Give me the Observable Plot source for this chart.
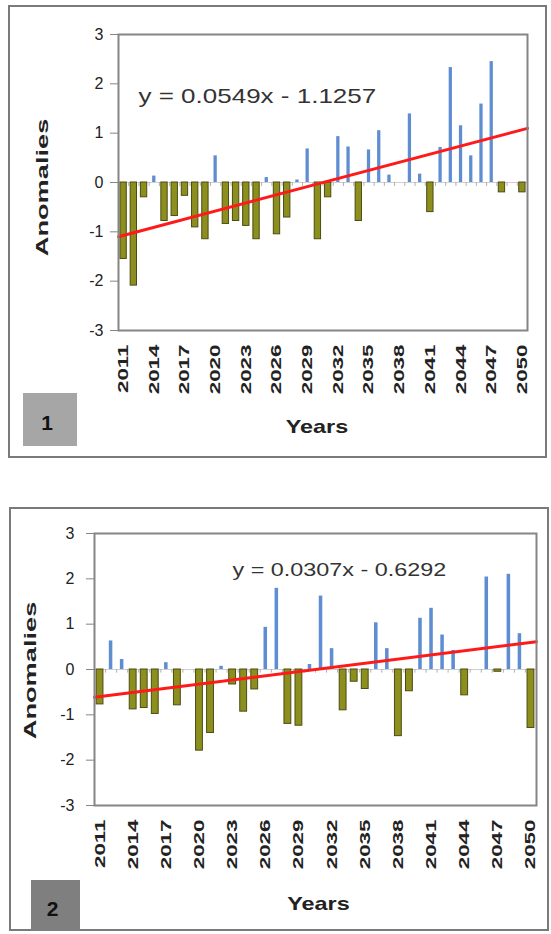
<!DOCTYPE html>
<html>
<head>
<meta charset="utf-8">
<script src="https://cdn.jsdelivr.net/npm/d3@7"></script>
<script src="https://cdn.jsdelivr.net/npm/@observablehq/plot@0.6"></script>
<style>
  body { margin: 0; background: #fff; }
  #wrap { position: relative; width: 551px; height: 934px; background: #fff; overflow: hidden; font-family: "Liberation Sans", Arial, sans-serif; }
  .box { position: absolute; box-sizing: border-box; border: 2px solid #7a7a7a; }
  .tag { position: absolute; box-sizing: border-box; display: flex; align-items: center; justify-content: center; font-weight: bold; font-size: 21px; color: #111; padding-top: 6px; padding-right: 6px; }
  .plot { position: absolute; left: 0; }
</style>
</head>
<body>
<div id="wrap">
  <div class="box" style="left:8px;top:5px;width:539px;height:453px"></div>
  <div class="box" style="left:9px;top:507px;width:540px;height:424px"></div>
  <div class="plot" id="p1" style="top:0"></div>
  <div class="plot" id="p2" style="top:500px"></div>
  <div class="tag" style="left:23px;top:393px;width:54px;height:53px;background:#a6a6a6">1</div>
  <div class="tag" style="left:31px;top:880px;width:49px;height:51px;background:#7f7f7f">2</div>
</div>
<script>
// ---- data ----
const years = d3.range(2011, 2051);
const tickYears = [2011, 2014, 2017, 2020, 2023, 2026, 2029, 2032, 2035, 2038, 2041, 2044, 2047, 2050];
const yTicks = [-3, -2, -1, 0, 1, 2, 3];

const anomalies1 = [-1.55, -2.09, -0.30, 0.13, -0.78, -0.68, -0.27, -0.91, -1.15, 0.54,
                    -0.84, -0.78, -0.88, -1.15, 0.10, -1.05, -0.71, 0.05, 0.68, -1.15,
                    -0.30, 0.93, 0.72, -0.78, 0.66, 1.05, 0.15, 0.00, 1.39, 0.17,
                    -0.60, 0.71, 2.33, 1.15, 0.54, 1.59, 2.45, -0.20, 0.00, -0.20];
const anomalies2 = [-0.77, 0.63, 0.22, -0.88, -0.85, -0.98, 0.15, -0.79, 0.00, -1.79,
                    -1.40, 0.07, -0.33, -0.93, -0.44, 0.93, 1.79, -1.20, -1.24, 0.11,
                    1.62, 0.46, -0.90, -0.27, -0.43, 1.03, 0.46, -1.47, -0.48, 1.13,
                    1.35, 0.76, 0.42, -0.57, 0.00, 2.04, -0.05, 2.10, 0.79, -1.29];
const trendSlope = [0.0549, 0.0307];
const trendIntercept = [-1.1257, -0.6292];
const equations = ["y = 0.0549x - 1.1257", "y = 0.0307x - 0.6292"];
const xLabel = "Years";
const yLabel = "Anomalies";

// ---- drawing ----
function stretchText(svg, test, sx, sy) {
  svg.querySelectorAll("text").forEach(t => {
    if (test(t)) {
      const tr = t.getAttribute("transform") || "";
      t.setAttribute("transform", tr + ` scale(${sx},${sy})`);
    }
  });
}

function panel(k, values, cfg) {
  const data = years.map((year, i) => ({year, value: values[i]}));
  const x0 = years[0] - 0.5, x1 = years[years.length - 1] + 0.5;
  const trend = [x0, x1].map(x => ({year: x, value: trendSlope[k] * (x - years[0] + 1) + trendIntercept[k]}));
  const svg = Plot.plot({
    width: 551,
    height: cfg.height,
    marginLeft: cfg.ml, marginRight: cfg.mr, marginTop: cfg.mt, marginBottom: cfg.mb,
    x: {domain: [x0, x1]},
    y: {domain: [-3, 3]},
    style: {fontFamily: "'Liberation Sans', Arial, sans-serif", color: "#222", background: "transparent", overflow: "visible"},
    marks: [
      Plot.ruleY([0], {stroke: "#cfcfcf", strokeWidth: 1}),
      Plot.ruleX(years, {x: d => d + 0.5, y1: 0, y2: -0.08, stroke: "#b0b0b0"}),
      Plot.rect(data.filter(d => d.value > 0), {x1: d => d.year - 0.16, x2: d => d.year + 0.16, y1: 0, y2: "value", fill: "#5f8dd2"}),
      Plot.rect(data.filter(d => d.value < 0), {x1: d => d.year - 0.31, x2: d => d.year + 0.31, y1: 0, y2: "value", fill: "#8c8f1e", stroke: "#4b4c12", strokeWidth: 1}),
      Plot.line(trend, {x: "year", y: "value", stroke: "#ff1a1a", strokeWidth: 3}),
      Plot.frame({stroke: "#858585", strokeWidth: 2}),
      Plot.axisY({ticks: yTicks, tickFormat: d => String(d), tickSize: 8, tickPadding: cfg.ytp, fontSize: 16, label: null, stroke: "#858585"}),
      Plot.axisX({ticks: tickYears, tickFormat: d => String(d), tickRotate: -90, tickSize: 0, tickPadding: 14, fontSize: 14, fontWeight: "bold", label: null}),
      Plot.text([equations[k]], {frameAnchor: "top-left", dx: cfg.eqDx, dy: cfg.eqDy, text: d => d, fontSize: cfg.eqFont, textAnchor: "start", fill: "#333"}),
      Plot.text([xLabel], {frameAnchor: "bottom", dx: cfg.xlDx, dy: cfg.xlDy, text: d => d, fontSize: 18, fontWeight: "bold", fill: "#222"}),
      Plot.text([yLabel], {frameAnchor: "left", dx: cfg.ylDx, dy: cfg.ylDy, text: d => d, rotate: -90, textAnchor: "middle", fontSize: 17, fontWeight: "bold", fill: "#222"})
    ]
  });
  stretchText(svg, t => /^20\d\d$/.test(t.textContent), 1.6, 1);
  stretchText(svg, t => t.textContent.startsWith("y ="), 1.3, 1);
  stretchText(svg, t => t.textContent === xLabel, 1.3, 1);
  stretchText(svg, t => t.textContent === yLabel, 1.6, 1);
  return svg;
}

document.getElementById("p1").append(panel(0, anomalies1, {
  height: 460, ml: 118, mr: 24, mt: 34, mb: 130, ytp: 7,
  eqDx: 20, eqDy: 54, eqFont: 20, xlDx: -6, xlDy: 102, ylDx: -76, ylDy: 5
}));
document.getElementById("p2").append(panel(1, anomalies2, {
  height: 434, ml: 94, mr: 15, mt: 33, mb: 129, ytp: 12,
  eqDx: 138, eqDy: 30, eqFont: 18, xlDx: 3, xlDy: 104, ylDx: -64, ylDy: 1
}));
</script>
</body>
</html>
